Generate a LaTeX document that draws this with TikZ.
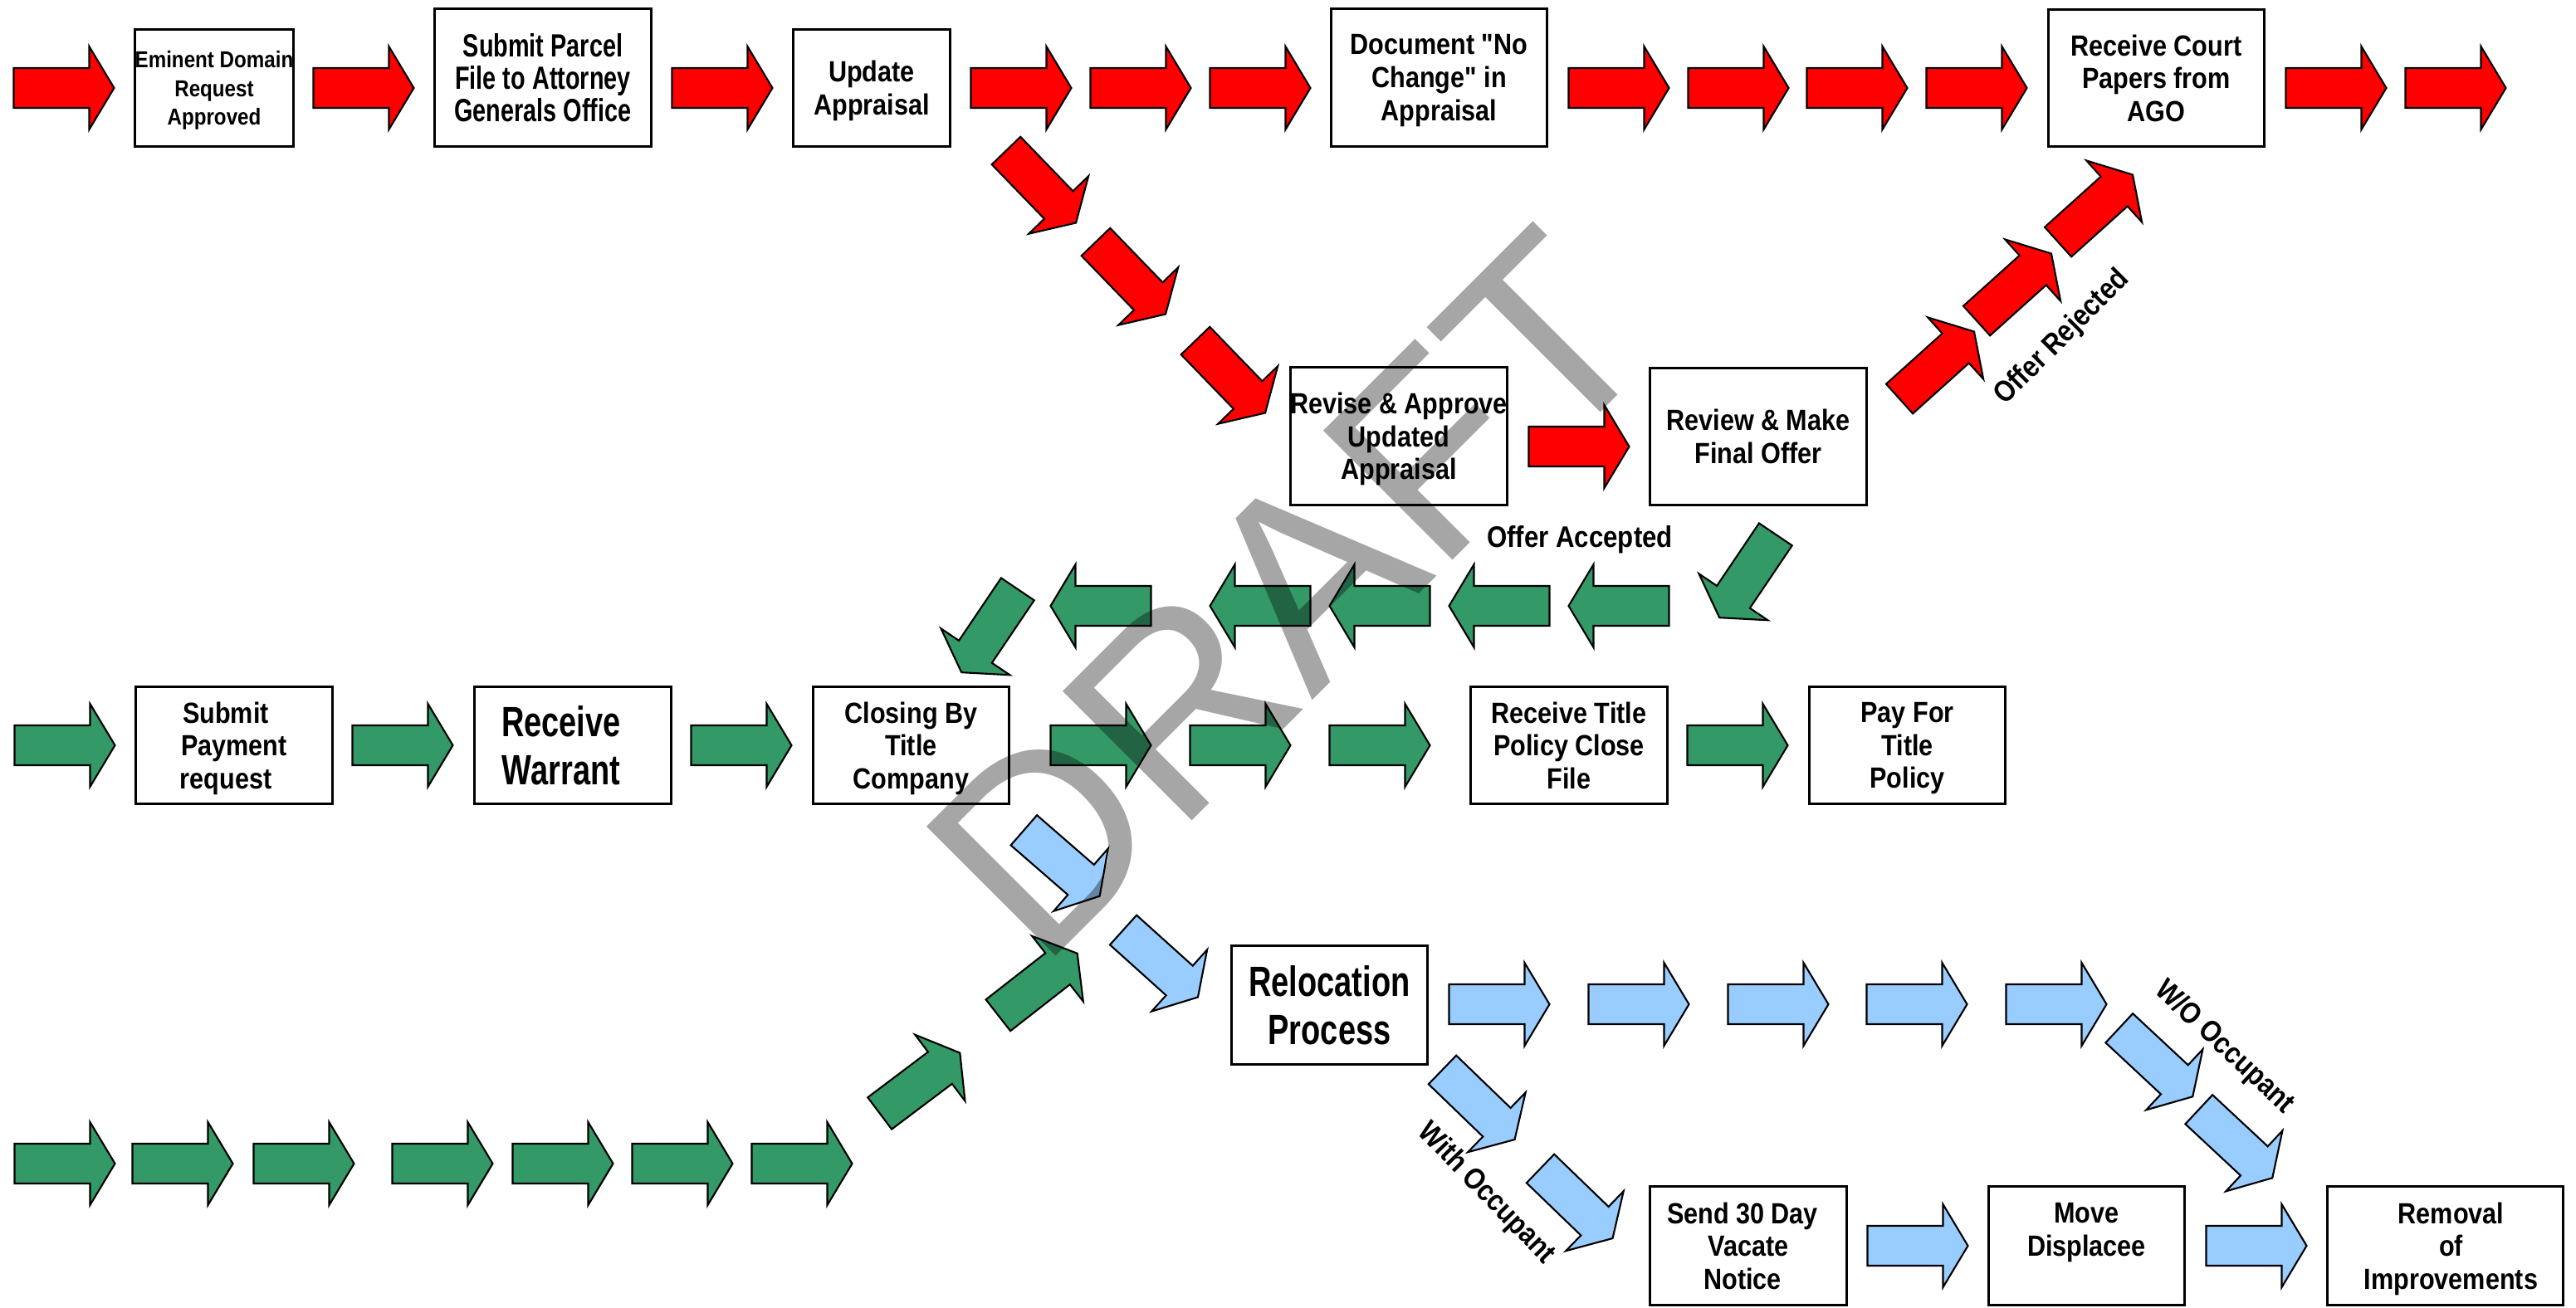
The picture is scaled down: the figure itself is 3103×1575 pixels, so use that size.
\documentclass[tikz,border=0pt]{standalone}
\usepackage{fontspec}
\usepackage{tikz}
\newfontfamily\boxfont[FakeStretch=0.87]{Liberation Sans}
\newfontfamily\narrowfont[FakeStretch=0.745]{Liberation Sans}
\newfontfamily\markfont{Liberation Sans}
\definecolor{arrowred}{HTML}{FF0000}
\definecolor{arrowgreen}{HTML}{339966}
\definecolor{arrowblue}{HTML}{99CCFF}
\tikzset{
  stage/.style={draw=black, fill=white, line width=0.85pt, align=center, inner sep=0pt,
    text depth=0pt, font=\boxfont\bfseries\fontsize{10}{11.3}\selectfont},
  smallstage/.style={stage, font=\boxfont\bfseries\fontsize{7.9}{9.7}\selectfont},
  tallstage/.style={stage, font=\narrowfont\bfseries\fontsize{11}{11.2}\selectfont},
  bigstage/.style={stage, font=\narrowfont\bfseries\fontsize{14.5}{16.4}\selectfont},
  tag/.style={inner sep=0pt, font=\boxfont\bfseries\fontsize{10.2}{11.3}\selectfont},
  redarrow/.style={draw=black, fill=arrowred, line width=0.6pt},
  greenarrow/.style={draw=black, fill=arrowgreen, line width=0.6pt},
  bluearrow/.style={draw=black, fill=arrowblue, line width=0.6pt},
  draftmark/.style={inner sep=0pt, text=black, text opacity=0.35,
    font=\markfont\fontsize{91}{91}\selectfont},
  pics/chevron/.style={code={
    \draw[pic actions] (-60.5,-24) -- (30.5,-24) -- (30.5,-50) -- (60.5,0)
      -- (30.5,50) -- (30.5,24) -- (-60.5,24) -- cycle;
  }}
}

\begin{document}
\begin{tikzpicture}[x=0.01cm, y=-0.01cm]
\useasboundingbox (0,0) rectangle (3103,1575);

% Condemnation track (top row)
\node[smallstage, minimum width=1.89cm, minimum height=1.41cm] (emin) at (258,106) {Eminent Domain\\Request\\Approved};
\node[tallstage, minimum width=2.61cm, minimum height=1.66cm] (parcel) at (654,93.5) {Submit Parcel\\File to Attorney\\Generals Office};
\node[stage, minimum width=1.89cm, minimum height=1.41cm] (update) at (1050,106) {Update\\Appraisal};
\node[stage, minimum width=2.60cm, minimum height=1.66cm] (nochange) at (1733.5,93.5) {Document "No\\Change" in\\Appraisal};
\node[stage, minimum width=2.60cm, minimum height=1.65cm] (court) at (2597.5,94) {Receive Court\\Papers from\\AGO};

\pic[redarrow] at (77,106) {chevron};
\pic[redarrow] at (438,106) {chevron};
\pic[redarrow] at (870,106) {chevron};
\pic[redarrow] at (1230,106) {chevron};
\pic[redarrow] at (1374,106) {chevron};
\pic[redarrow] at (1518,106) {chevron};
\pic[redarrow] at (1950,106) {chevron};
\pic[redarrow] at (2094,106) {chevron};
\pic[redarrow] at (2237,106) {chevron};
\pic[redarrow] at (2381,106) {chevron};
\pic[redarrow] at (2814,106) {chevron};
\pic[redarrow] at (2958,106) {chevron};

% Revised appraisal and final offer
\node[stage, minimum width=2.61cm, minimum height=1.65cm] (revise) at (1685,525.5) {Revise \& Approve\\Updated\\Appraisal};
\node[stage, minimum width=2.61cm, minimum height=1.65cm] (review) at (2118,526) {Review \& Make\\Final Offer};

\pic[redarrow, rotate=-46] at (1254,225) {chevron};
\pic[redarrow, rotate=-46] at (1362,335) {chevron};
\pic[redarrow, rotate=-46] at (1482,454) {chevron};
\pic[redarrow] at (1902,538) {chevron};
\pic[redarrow, rotate=42] at (2333,440) {chevron};
\pic[redarrow, rotate=42] at (2426,346) {chevron};
\pic[redarrow, rotate=42] at (2524,251) {chevron};
\node[tag, rotate=45] (rejected) at (2484,407) {Offer Rejected};

% Offer accepted, back to closing
\node[tag] (accepted) at (1903,650) {Offer Accepted};
\pic[greenarrow, rotate=-124] at (2105,694) {chevron};
\pic[greenarrow, rotate=180] at (1950,730) {chevron};
\pic[greenarrow, rotate=180] at (1806,730) {chevron};
\pic[greenarrow, rotate=180] at (1662,730) {chevron};
\pic[greenarrow, rotate=180] at (1518,730) {chevron};
\pic[greenarrow, rotate=180] at (1326,730) {chevron};
\pic[greenarrow, rotate=-124] at (1192,760) {chevron};

% Payment track (middle row)
\node[stage, minimum width=2.37cm, minimum height=1.41cm] (payreq) at (282,898) {Submit\hspace*{0.2cm}\\Payment\hspace*{0.2cm}\\request\hspace*{0.2cm}};
\node[bigstage, minimum width=2.37cm, minimum height=1.41cm] (warrant) at (690,898) {Receive\hspace*{0.28cm}\\Warrant\hspace*{0.28cm}};
\node[stage, minimum width=2.36cm, minimum height=1.41cm] (closing) at (1097.5,898) {Closing By\\Title\\Company};
\node[stage, minimum width=2.37cm, minimum height=1.41cm] (titlefile) at (1890,898) {Receive Title\\Policy Close\\File};
\node[stage, minimum width=2.36cm, minimum height=1.41cm] (paytitle) at (2297.5,898) {Pay For\\Title\\Policy};

\pic[greenarrow] at (78,898) {chevron};
\pic[greenarrow] at (485,898) {chevron};
\pic[greenarrow] at (893,898) {chevron};
\pic[greenarrow] at (1326,898) {chevron};
\pic[greenarrow] at (1494,898) {chevron};
\pic[greenarrow] at (1662,898) {chevron};
\pic[greenarrow] at (2093,898) {chevron};

% Lower green track rising to closing
\pic[greenarrow] at (78,1402) {chevron};
\pic[greenarrow] at (220,1402) {chevron};
\pic[greenarrow] at (366,1402) {chevron};
\pic[greenarrow] at (533,1402) {chevron};
\pic[greenarrow] at (678,1402) {chevron};
\pic[greenarrow] at (822,1402) {chevron};
\pic[greenarrow] at (966,1402) {chevron};
\pic[greenarrow, rotate=37] at (1108,1305) {chevron};
\pic[greenarrow, rotate=38] at (1250,1186) {chevron};

% Relocation track
\node[bigstage, minimum width=2.36cm, minimum height=1.43cm] (reloc) at (1601.5,1211) {Relocation\\Process};
\node[stage, minimum width=2.37cm, minimum height=1.43cm] (notice) at (2106,1501) {Send 30 Day\hspace*{0.14cm}\\Vacate\hspace*{0.14cm}\\Notice\hspace*{0.14cm}};
\node[stage, minimum width=2.36cm, minimum height=1.43cm] (displacee) at (2513.5,1501) {Move\\Displacee\\~};
\node[stage, minimum width=2.84cm, minimum height=1.43cm] (removal) at (2945.5,1501) {\hspace*{0.14cm}Removal\\\hspace*{0.14cm}of\\\hspace*{0.14cm}Improvements};

\pic[bluearrow, rotate=-41] at (1279,1040) {chevron};
\pic[bluearrow, rotate=-42] at (1398,1161) {chevron};
\pic[bluearrow] at (1806,1210) {chevron};
\pic[bluearrow] at (1974,1210) {chevron};
\pic[bluearrow] at (2142,1210) {chevron};
\pic[bluearrow] at (2309,1210) {chevron};
\pic[bluearrow] at (2477,1210) {chevron};
\pic[bluearrow, rotate=-43] at (2597,1280) {chevron};
\pic[bluearrow, rotate=-43] at (2693,1378) {chevron};
\node[tag, rotate=-43] (without) at (2679,1262) {W/O Occupant};
\pic[bluearrow, rotate=-44] at (1781,1331) {chevron};
\pic[bluearrow, rotate=-44] at (1899,1450) {chevron};
\node[tag, rotate=-46] (withocc) at (1790,1438) {With Occupant};
\pic[bluearrow] at (2310,1501) {chevron};
\pic[bluearrow] at (2718,1501) {chevron};

% Watermark
\node[draftmark, rotate=45] (draft) at (1553,716) {DRAFT};

\end{tikzpicture}
\end{document}
